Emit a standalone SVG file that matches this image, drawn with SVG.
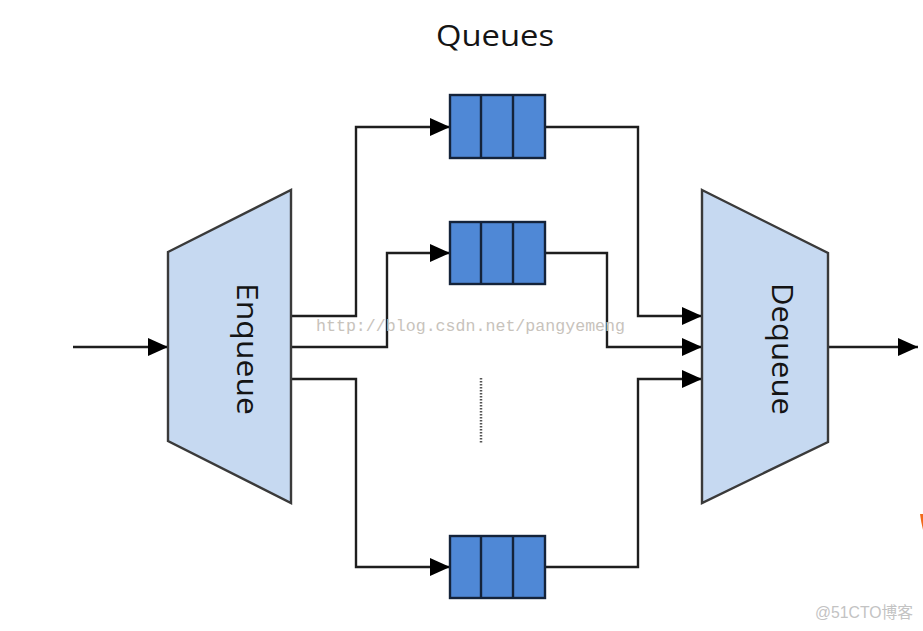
<svg xmlns="http://www.w3.org/2000/svg" width="923" height="631" viewBox="0 0 923 631">
<defs>
<style>
.line{fill:none;stroke:#1e1e1e;stroke-width:2.4}
.trap{fill:#c6d9f1;stroke:#3a3a3a;stroke-width:2.4}
.q{fill:#4f88d6;stroke:#14233a;stroke-width:2.4}
.lbl{font-family:"Open Sans","Liberation Sans",sans-serif;font-size:30px;fill:#141414}
</style>
<marker id="ah" viewBox="0 0 20 18" refX="20" refY="9" markerWidth="20" markerHeight="18" orient="auto" markerUnits="userSpaceOnUse">
<path d="M0,0 L20,9 L0,18 z" fill="#000"/>
</marker>
</defs>
<rect width="923" height="631" fill="#fff"/>
<text x="495" y="46" text-anchor="middle" class="lbl" textLength="118" lengthAdjust="spacingAndGlyphs">Queues</text>
<g id="connectors">
<path class="line" d="M73,347 H168" marker-end="url(#ah)"/>
<path class="line" d="M291,316 H356 V127 H450" marker-end="url(#ah)"/>
<path class="line" d="M291,347 H387 V253 H450" marker-end="url(#ah)"/>
<path class="line" d="M291,379 H356 V567 H450" marker-end="url(#ah)"/>
<path class="line" d="M545,127 H638 V316 H702" marker-end="url(#ah)"/>
<path class="line" d="M545,253 H607 V347 H702" marker-end="url(#ah)"/>
<path class="line" d="M545,567 H638 V379 H702" marker-end="url(#ah)"/>
<path class="line" d="M828,347 H918" marker-end="url(#ah)"/>
</g>
<g id="enqueue">
<path class="trap" d="M168,252 L291,190 L291,503 L168,441 Z"/>
<text class="lbl" transform="translate(237,349) rotate(90)" text-anchor="middle" textLength="132" lengthAdjust="spacingAndGlyphs">Enqueue</text>
</g>
<g id="dequeue">
<path class="trap" d="M702,190 L828,253 L828,442 L702,503 Z"/>
<text class="lbl" transform="translate(772,349) rotate(90)" text-anchor="middle" textLength="132" lengthAdjust="spacingAndGlyphs">Dequeue</text>
</g>
<g id="queue1">
<rect class="q" x="450" y="95" width="95" height="63"/>
<path class="q" d="M481,95 V158 M513,95 V158"/>
</g>
<g id="queue2">
<rect class="q" x="450" y="222" width="95" height="62"/>
<path class="q" d="M481,222 V284 M513,222 V284"/>
</g>
<g id="queue3">
<rect class="q" x="450" y="536" width="95" height="62"/>
<path class="q" d="M481,536 V598 M513,536 V598"/>
</g>
<g id="ellipsis">
<path d="M481,378 V443" stroke="#555" stroke-width="2.5" stroke-dasharray="1.5,1.5" fill="none"/>
</g>
<text x="316" y="331" font-family="'Liberation Mono',monospace" font-size="16.5" fill="#c8c3bc" textLength="309" lengthAdjust="spacingAndGlyphs">http://blog.csdn.net/pangyemeng</text>
<text x="815" y="618" font-family="'Liberation Sans','Noto Sans CJK SC',sans-serif" font-size="16" fill="#c3c3c3" textLength="98" lengthAdjust="spacingAndGlyphs">@51CTO博客</text>
<path d="M920,514 Q921,522 923,530 L923,514 Z" fill="#f26a1b"/>
</svg>
